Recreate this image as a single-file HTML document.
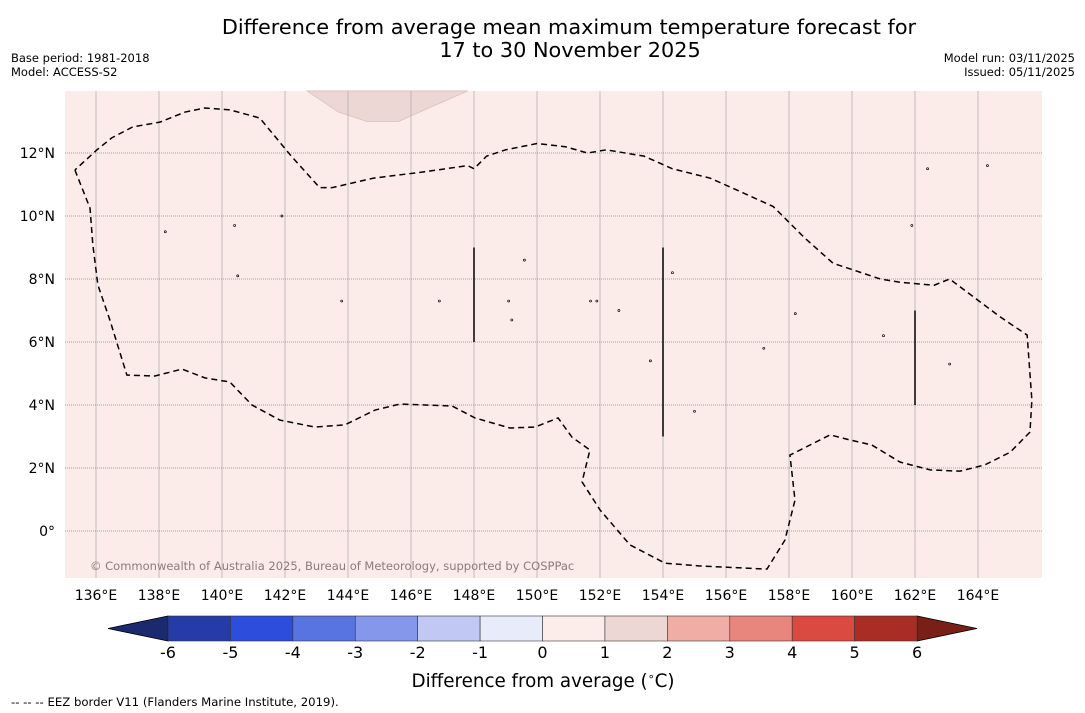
<!DOCTYPE html>
<html><head><meta charset="utf-8">
<style>
body{margin:0;background:#fff;font-family:"DejaVu Sans","Liberation Sans",sans-serif;}
#wrap{position:relative;width:1085px;height:713px;overflow:hidden;}
svg text{font-family:"DejaVu Sans","Liberation Sans",sans-serif;}
</style></head>
<body>
<div id="wrap">
<svg id="svg" width="1085" height="713" xmlns="http://www.w3.org/2000/svg">
<text x="569" y="34" font-size="20.8" text-anchor="middle">Difference from average mean maximum temperature forecast for</text>
<text x="570" y="57" font-size="20.8" text-anchor="middle">17 to 30 November 2025</text>
<text x="11" y="62" font-size="11.5">Base period: 1981-2018</text>
<text x="11" y="76" font-size="11.5">Model: ACCESS-S2</text>
<text x="1075" y="62" font-size="11.5" text-anchor="end">Model run: 03/11/2025</text>
<text x="1075" y="76" font-size="11.5" text-anchor="end">Issued: 05/11/2025</text>
<g id="map"></g>
<g id="cbar"></g>
<text x="543" y="687" font-size="18.3" text-anchor="middle">Difference from average (<tspan font-size="11" dy="-7">∘</tspan><tspan dy="7">C)</tspan></text>
<text x="11" y="706" font-size="11.7">--  --  -- EEZ border V11 (Flanders Marine Institute, 2019).</text>
</svg>
</div>
<script>
const lonTicks=[136,138,140,142,144,146,148,150,152,154,156,158,160,162,164];
const latTicks=[0,2,4,6,8,10,12];
const cbLevels=[-6,-5,-4,-3,-2,-1,0,1,2,3,4,5,6];
const cbColors=["#253ba8","#2d4ddd","#5874e0","#8597ea","#c0c8f3","#e8ebfa","#fcecea","#edd7d5","#efada6","#e8857d","#da4a40","#a92c25"];
const cbUnder="#1b2a6e", cbOver="#7a1f18";
const eezLon=[135.33,135.81,135.9,136.06,136.44,136.98,137.87,138.73,139.46,140.25,140.95,141.84,142.95,143.9,144.86,145.65,146.44,147.3,148.03,149.14,149.94,150.67,151.11,151.68,151.43,152,152.95,154.06,155.17,157.3,157.87,158.19,158.03,158.35,159.3,159.94,160.63,161.52,162.48,163.43,164.22,165.02,165.65,165.71,165.56,164.7,163.9,163.1,162.6,161.5,160.9,159.4,158.5,157.5,156.4,155.5,154.3,153.4,152.2,151.6,150.9,150,149,148.4,148,147.8,146.4,144.8,143.5,143.1,142.2,141.2,140.25,139.46,138.83,138.03,137.17,136.5,136.03,135.33];
const eezLat=[11.46,10.25,9.08,7.81,6.7,4.95,4.92,5.14,4.86,4.73,4.0,3.52,3.3,3.37,3.84,4.03,4.0,3.97,3.59,3.27,3.3,3.59,2.98,2.57,1.56,0.67,-0.44,-1.02,-1.11,-1.21,-0.29,0.98,2.41,2.57,3.05,2.89,2.73,2.19,1.94,1.9,2.1,2.5,3.14,4.16,6.22,6.8,7.4,8,7.8,7.9,8,8.5,9.3,10.3,10.8,11.2,11.5,11.9,12.1,12,12.2,12.3,12.1,11.9,11.5,11.6,11.4,11.2,10.9,10.9,11.9,13.11,13.37,13.43,13.3,12.98,12.83,12.48,12.1,11.46];
const blobLon=[142.7,143.7,144.6,145.6,146.5,147.8];
const blobLat=[13.97,13.3,13,13,13.4,13.97];
const segLon=[148,154,162], segLat1=[9,9,7], segLat2=[6,3,4];
const isleLon=[138.2,140.4,140.5,141.9,143.8,146.9,149.1,149.2,149.6,151.7,151.9,152.6,153.6,154.3,155,157.2,158.2,161,161.9,162.4,163.1,164.3];
const isleLat=[9.5,9.7,8.1,10,7.3,7.3,7.3,6.7,8.6,7.3,7.3,7.0,5.4,8.2,3.8,5.8,6.9,6.2,9.7,11.5,5.3,11.6];
const NS="http://www.w3.org/2000/svg";
const X0=65,X1=1042,Y0=91,Y1=578;
const xs=l=>96+(l-136)*31.5, ys=l=>531-l*31.5;
function mk(t,a,p){const e=document.createElementNS(NS,t);for(const k in a)e.setAttribute(k,a[k]);p.appendChild(e);return e;}
const map=document.getElementById('map');
const bg=mk('rect',{x:X0,y:Y0,width:X1-X0,height:Y1-Y0,fill:"#fbebe9"},map);


const blob=mk('polygon',{points:blobLon.map((l,i)=>xs(l)+','+ys(blobLat[i])).join(' '),fill:"#ecd7d5",stroke:"#d9bfbd","stroke-width":0.8},map);


lonTicks.forEach(l=>{
 const g=mk('line',{x1:xs(l),x2:xs(l),y1:Y0,y2:Y1,stroke:"#aaa",'stroke-width':0.7},map);
 
 
 const t=mk('text',{x:xs(l),y:600,'font-size':14,'text-anchor':'middle'},map);t.textContent=l+'°E';
 
 
});
latTicks.forEach(l=>{
 const g=mk('line',{x1:X0,x2:X1,y1:ys(l),y2:ys(l),stroke:"#888",'stroke-width':0.8,'stroke-dasharray':'1,1'},map);
 
 
 const t=mk('text',{x:55,y:ys(l)+5,'font-size':14,'text-anchor':'end'},map);t.textContent=(l===0?'0°':l+'°N');
 
 
});
const eez=mk('polyline',{points:eezLon.map((l,i)=>xs(l)+','+ys(eezLat[i])).join(' '),fill:'none',stroke:'#000','stroke-width':1.5,'stroke-dasharray':'6,4'},map);


segLon.forEach((l,i)=>{
 const s=mk('line',{x1:xs(l),x2:xs(l),y1:ys(segLat1[i]),y2:ys(segLat2[i]),stroke:'#000','stroke-width':1.5},map);
 
 
});
isleLon.forEach((l,i)=>{
 const c=mk('circle',{cx:xs(l),cy:ys(isleLat[i]),r:1,fill:'none',stroke:'#000','stroke-width':0.7},map);
 
 
});
const cp=mk('text',{x:90,y:570,'font-size':11.5,fill:'#8a7c7b'},map);
cp.textContent='© Commonwealth of Australia 2025, Bureau of Meteorology, supported by COSPPac';


const cb=document.getElementById('cbar');
const cx=v=>168+(v+6)*62.42, CY0=616, CY1=641;
const u=mk('polygon',{points:`108,628.5 ${cx(-6)},${CY0} ${cx(-6)},${CY1}`,fill:cbUnder,stroke:'#000','stroke-width':0.8},cb);


const o=mk('polygon',{points:`977,628.5 ${cx(6)},${CY0} ${cx(6)},${CY1}`,fill:cbOver,stroke:'#000','stroke-width':0.8},cb);


cbColors.forEach((c,i)=>{
 const r=mk('rect',{x:cx(cbLevels[i]),y:CY0,width:cx(cbLevels[i+1])-cx(cbLevels[i]),height:CY1-CY0,fill:c,stroke:'#333','stroke-width':0.6},cb);
 
 
});
cbLevels.forEach(v=>{
 const t=mk('text',{x:cx(v),y:658,'font-size':16,'text-anchor':'middle'},cb);t.textContent=v;
 
 
});
</script>
</body></html>
